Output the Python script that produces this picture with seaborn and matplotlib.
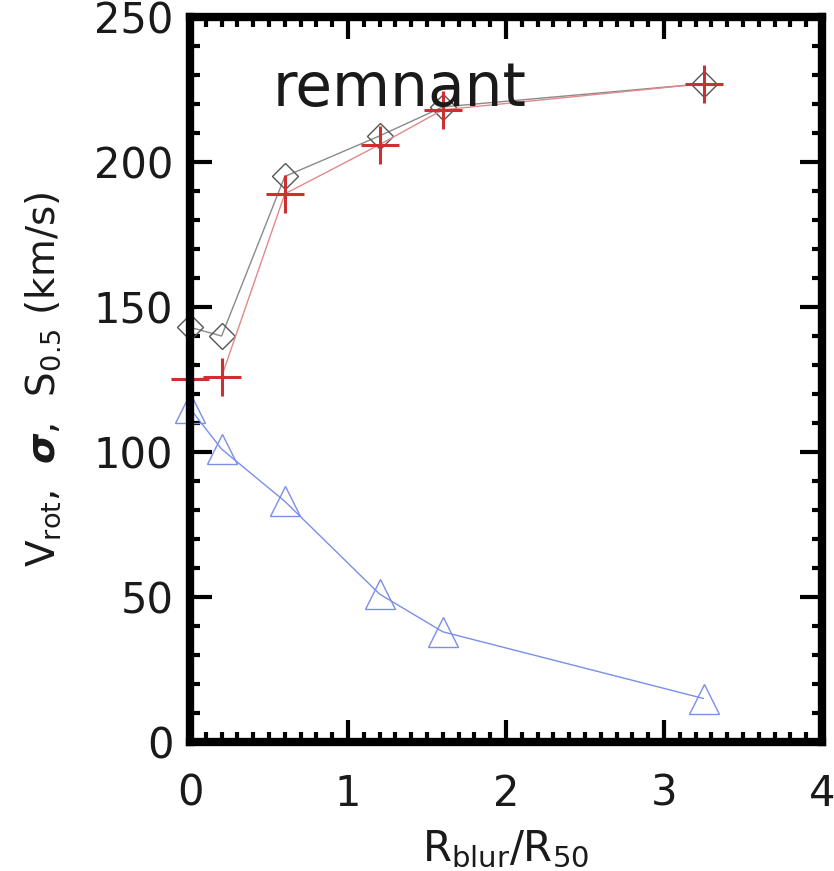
import matplotlib
matplotlib.use("Agg")
import matplotlib.pyplot as plt
import seaborn as sns
import pandas as pd
from matplotlib.ticker import MultipleLocator

sns.set_style("white")
plt.rcParams['font.family'] = ['DejaVu Sans']
plt.rcParams['mathtext.fontset'] = 'dejavusans'

x_blur = [0.0, 0.2, 0.6, 1.2, 1.6, 3.25]
s05 = [143, 140, 195, 209, 219, 227]          # diamonds
vrot_plus = [125, 126, 189, 206, 218, 227]    # red plus
sigma = [115, 101, 83, 51, 38, 15]            # blue triangles

fig = plt.figure(figsize=(8.34, 8.71), dpi=100)
ax = fig.add_axes([190/834, 1 - 742/871, 632/834, 725/871])

df_d = pd.DataFrame({"x": x_blur, "y": s05})
df_p = pd.DataFrame({"x": x_blur, "y": vrot_plus})
df_t = pd.DataFrame({"x": x_blur, "y": sigma})

sns.lineplot(data=df_d, x="x", y="y", ax=ax, color="#8a8a8a", lw=1.0,
             marker="D", markersize=13, markerfacecolor="none",
             markeredgecolor="#555555", markeredgewidth=1.0, clip_on=False)
sns.lineplot(data=df_p, x="x", y="y", ax=ax, color="#e08a8a", lw=1.0,
             marker="+", markersize=27, markeredgecolor="#cc3030",
             markeredgewidth=2.2, clip_on=False)
sns.lineplot(data=df_t, x="x", y="y", ax=ax, color="#7b8fe6", lw=1.0,
             marker="^", markersize=21, markerfacecolor="none",
             markeredgecolor="#7b8fe6", markeredgewidth=1.0, clip_on=False)

ax.set_xlim(0, 4)
ax.set_ylim(0, 250)
ax.xaxis.set_major_locator(MultipleLocator(1))
ax.xaxis.set_minor_locator(MultipleLocator(0.1))
ax.yaxis.set_major_locator(MultipleLocator(50))
ax.yaxis.set_minor_locator(MultipleLocator(10))
ax.tick_params(which="both", direction="in", top=True, right=True,
               bottom=True, left=True, width=3, colors="black",
               labelcolor="#1a1a1a")
ax.tick_params(which="major", length=16, labelsize=30)
ax.tick_params(axis="x", which="major", pad=22)
ax.tick_params(axis="y", which="major", pad=12)
ax.tick_params(which="minor", length=7)
for s in ax.spines.values():
    s.set_linewidth(6)
    s.set_color("black")

ax.set_xlabel(r"R$_{\mathrm{blur}}$/R$_{50}$", fontsize=30, labelpad=10,
              color="#1a1a1a")
ax.set_ylabel(r"V$_{\mathrm{rot}}$,  $\boldsymbol{\sigma}$,  S$_{0.5}$ (km/s)",
              fontsize=28, labelpad=22, color="#1a1a1a")
ax.text(0.13, 0.9, "remnant", transform=ax.transAxes, fontsize=43,
        ha="left", va="center", color="#1a1a1a")

fig.savefig("out.png", dpi=100)
